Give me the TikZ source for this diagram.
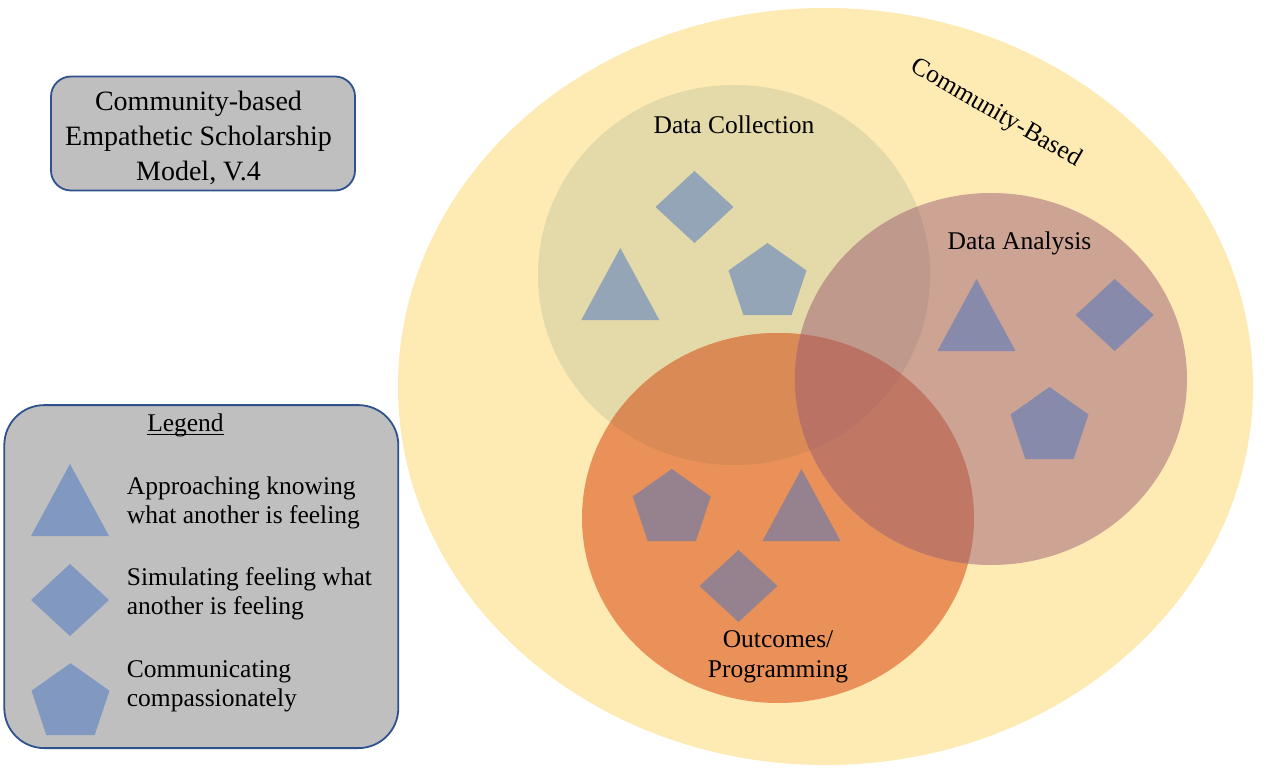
\documentclass[tikz,border=0pt]{standalone}
\usepackage{fontspec}
\setmainfont{Liberation Serif}
\definecolor{bgyellow}{RGB}{254,234,179}
\definecolor{colC}{RGB}{227,217,169}
\definecolor{colA}{RGB}{205,163,147}
\definecolor{colO}{RGB}{233,145,88}
\definecolor{colCO}{RGB}{217,138,85}
\definecolor{colCA}{RGB}{190,153,140}
\definecolor{colOA}{RGB}{192,119,100}
\definecolor{colCOA}{RGB}{185,114,100}
\definecolor{markblue}{RGB}{68,114,196}
\definecolor{boxgray}{RGB}{191,191,191}
\definecolor{boxline}{RGB}{47,82,143}
\newcommand{\titlefont}{\fontsize{28}{35}\selectfont}
\newcommand{\bodyfont}{\fontsize{25.5}{29}\selectfont}
\newcommand{\labelfont}{\fontsize{25.5}{30}\selectfont}
\tikzset{
  mark fill/.style={fill=markblue, fill opacity=0.5},
  shtri/.pic={\fill[mark fill] (0,-36) -- (39,36) -- (-39,36) -- cycle;},
  shdia/.pic={\fill[mark fill] (0,-36) -- (39,0) -- (0,36) -- (-39,0) -- cycle;},
  shpen/.pic={\fill[mark fill] (0,-36) -- (39,-8.5) -- (24.1,36) -- (-24.1,36) -- (-39,-8.5) -- cycle;},
  panel/.style={draw=boxline, line width=1.8pt, fill=boxgray, inner sep=0pt},
  txt/.style={inner sep=0pt, text=black},
}
\begin{document}
\begin{tikzpicture}[x=1pt, y=-1pt]
\fill[white] (0,0) rectangle (1278,773);
\useasboundingbox (0,0) rectangle (1278,773);

% outer community ellipse
\fill[bgyellow] (825.5,386.5) ellipse [x radius=427.5, y radius=378.5];

% the three phases and their overlaps
\def\ellC{(734,275) ellipse [x radius=196, y radius=190]}
\def\ellA{(991,379) ellipse [x radius=196, y radius=186]}
\def\ellO{(778,518) ellipse [x radius=196, y radius=185]}
\fill[colC] \ellC;
\fill[colO] \ellO;
\fill[colA] \ellA;
\begin{scope}\clip \ellC; \fill[colCO] \ellO; \end{scope}
\begin{scope}\clip \ellC; \fill[colCA] \ellA; \end{scope}
\begin{scope}\clip \ellO; \fill[colOA] \ellA; \end{scope}
\begin{scope}\clip \ellC; \clip \ellO; \fill[colCOA] \ellA; \end{scope}

% markers in each phase
\pic at (694.5,207) {shdia};
\pic at (620.3,284) {shtri};
\pic at (767.5,279) {shpen};
\pic at (976.5,315) {shtri};
\pic at (1114.7,315) {shdia};
\pic at (1049.5,423) {shpen};
\pic at (671.8,505) {shpen};
\pic at (801.5,505) {shtri};
\pic at (738.5,586) {shdia};

% phase labels (multi-line nodes are placed by their last baseline)
\node[txt, font=\labelfont, anchor=base] (lblC) at (734,134) {Data Collection};
\node[txt, font=\labelfont, anchor=base] (lblA) at (1019.5,249) {Data Analysis};
\node[txt, font=\labelfont, anchor=base, align=center] (lblO) at (778,677.3) {Outcomes/\\Programming};
\node[txt, font=\labelfont, rotate=-30] (lblCB) at (995.8,113.3) {Community-Based};

% title panel
\node[panel, rounded corners=20pt, minimum width=304pt, minimum height=114pt] (titlebox) at (203,133.5) {};
\node[txt, font=\titlefont, anchor=base, align=center] (titletext) at (198.5,180.7) {Community-based\\Empathetic Scholarship\\Model, V.4};

% legend panel
\node[panel, rounded corners=40pt, minimum width=394pt, minimum height=343pt] (legendbox) at (201.3,576.6) {};
\node[txt, font=\bodyfont, anchor=base] (legtitle) at (185.5,431.7) {Legend};
\draw[line width=1.2pt] ([yshift=-2.8pt]legtitle.base west) -- ([yshift=-2.8pt]legtitle.base east);
\pic at (70,500) {shtri};
\pic at (70,600) {shdia};
\pic at (70.5,699.2) {shpen};
\node[txt, font=\bodyfont, anchor=base west, align=left] (leg1) at (126.7,523.3) {Approaching knowing\\what another is feeling};
\node[txt, font=\bodyfont, anchor=base west, align=left] (leg2) at (126.7,614.3) {Simulating feeling what\\another is feeling};
\node[txt, font=\bodyfont, anchor=base west, align=left] (leg3) at (126.7,706.7) {Communicating\\compassionately};
\end{tikzpicture}
\end{document}
